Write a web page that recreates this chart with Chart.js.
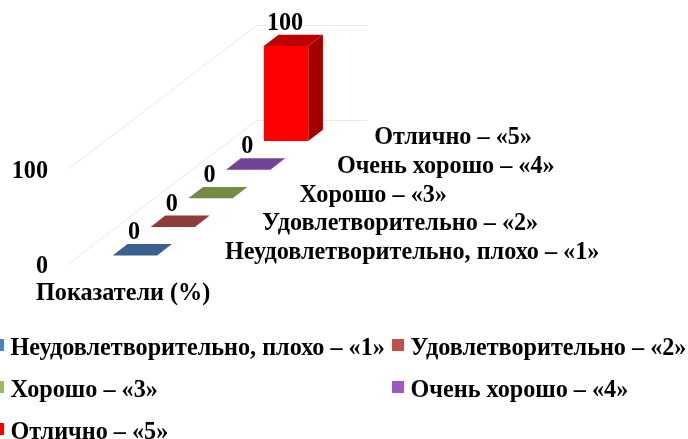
<!DOCTYPE html>
<html><head><meta charset="utf-8">
<style>html,body{margin:0;padding:0;background:#fff}canvas{display:block}</style>
<script src="https://cdn.jsdelivr.net/npm/chart.js@4/dist/chart.umd.min.js"></script>
</head><body><canvas id="c" width="688" height="439"></canvas>
<script>
const seriesNames = ['Неудовлетворительно, плохо – «1»','Удовлетворительно – «2»','Хорошо – «3»','Очень хорошо – «4»','Отлично – «5»'];
const seriesValues = [0,0,0,0,100];
const seriesColors = ['#4F81BD','#C0504D','#9BBB59','#9B59C8','#FF0000'];
const yTicks = [0,100];
const axisTitle = 'Показатели (%)';

const FONT = 'bold 24.2px "Liberation Serif"';
const STEP_Y = 28.6, DEPTH_X = 14.7, DEPTH_Y = 11.4;
const shade = (hex,f)=>{const n=parseInt(hex.slice(1),16);
  return `rgb(${((n>>16)&255)*f|0},${((n>>8)&255)*f|0},${(n&255)*f|0})`;};

const datasets = seriesNames.map((name,i)=>({
  label:name,
  data:seriesValues.map((v,j)=>j===i?v:null),
  backgroundColor:seriesColors[i]
}));

const bar3d = {
  id:'bar3d',
  beforeDatasetsDraw(chart){
    const {ctx,scales:{x,y}} = chart;
    ctx.save();
    // walls
    ctx.strokeStyle='#e9e9e9';ctx.lineWidth=1;
    const x0=x.getPixelForValue(0);
    yTicks.forEach(v=>{
      const p=y.getPixelForValue(v);
      ctx.beginPath();
      ctx.moveTo(x0-67,p+8.8);
      ctx.lineTo(x0+121.7,p-135);
      ctx.lineTo(x0+232.7,p-135);
      ctx.stroke();
    });
    // bars back to front
    for(let i=datasets.length-1;i>=0;i--){
      const el=chart.getDatasetMeta(i).data[i];
      const off=STEP_Y*i;
      const l=el.x-el.width/2, r=el.x+el.width/2, top=el.y-off, base=el.base-off;
      const c=seriesColors[i];
      const poly=(pts,col)=>{ctx.fillStyle=col;ctx.beginPath();
        pts.forEach((q,k)=>k?ctx.lineTo(q[0],q[1]):ctx.moveTo(q[0],q[1]));ctx.closePath();ctx.fill();};
      if(base-top>0.5){
        poly([[r,top],[r+DEPTH_X,top-DEPTH_Y],[r+DEPTH_X,base-DEPTH_Y],[r,base]],shade(c,0.63));
        poly([[l,top],[r,top],[r,base],[l,base]],c);
      }
      poly([[l,top],[r,top],[r+DEPTH_X,top-DEPTH_Y],[l+DEPTH_X,top-DEPTH_Y]],shade(c,0.75));
    }
    // texts
    ctx.fillStyle='#000';ctx.font=FONT;ctx.textBaseline='middle';
    // value labels
    ctx.textAlign='center';
    seriesValues.forEach((v,i)=>{
      const el=chart.getDatasetMeta(i).data[i];
      ctx.fillText(String(v),el.x-1,el.y-STEP_Y*i-22.5);
    });
    // y ticks
    ctx.textAlign='right';
    yTicks.forEach(v=>ctx.fillText(String(v),x0-87,y.getPixelForValue(v)+11));
    // depth axis labels
    ctx.textAlign='left';
    seriesNames.forEach((n,i)=>ctx.fillText(n,x0+90+37.3*i,y.getPixelForValue(0)-3-STEP_Y*i));
    // category title
    ctx.fillText(axisTitle,36,294);
    // legend
    const lx=[-8,392,-8,392,-8], ly=[345,345,387,387,429];
    seriesNames.forEach((n,i)=>{
      ctx.fillStyle=seriesColors[i];ctx.fillRect(lx[i],ly[i]-6,12,12);
      ctx.fillStyle='#000';ctx.fillText(n,lx[i]+18.5,ly[i]+4);
    });
    ctx.restore();
    return false;
  }
};

new Chart(document.getElementById('c'),{
  type:'bar',
  data:{labels:seriesNames,datasets},
  options:{
    responsive:false,animation:false,
    layout:{padding:{left:116.1,right:383.1,top:160.5,bottom:183.5}},
    datasets:{bar:{grouped:false,barThickness:44.4}},
    plugins:{legend:{display:false},tooltip:{enabled:false}},
    scales:{
      x:{display:false},
      y:{display:false,min:0,max:100}
    }
  },
  plugins:[bar3d]
});
</script></body></html>
